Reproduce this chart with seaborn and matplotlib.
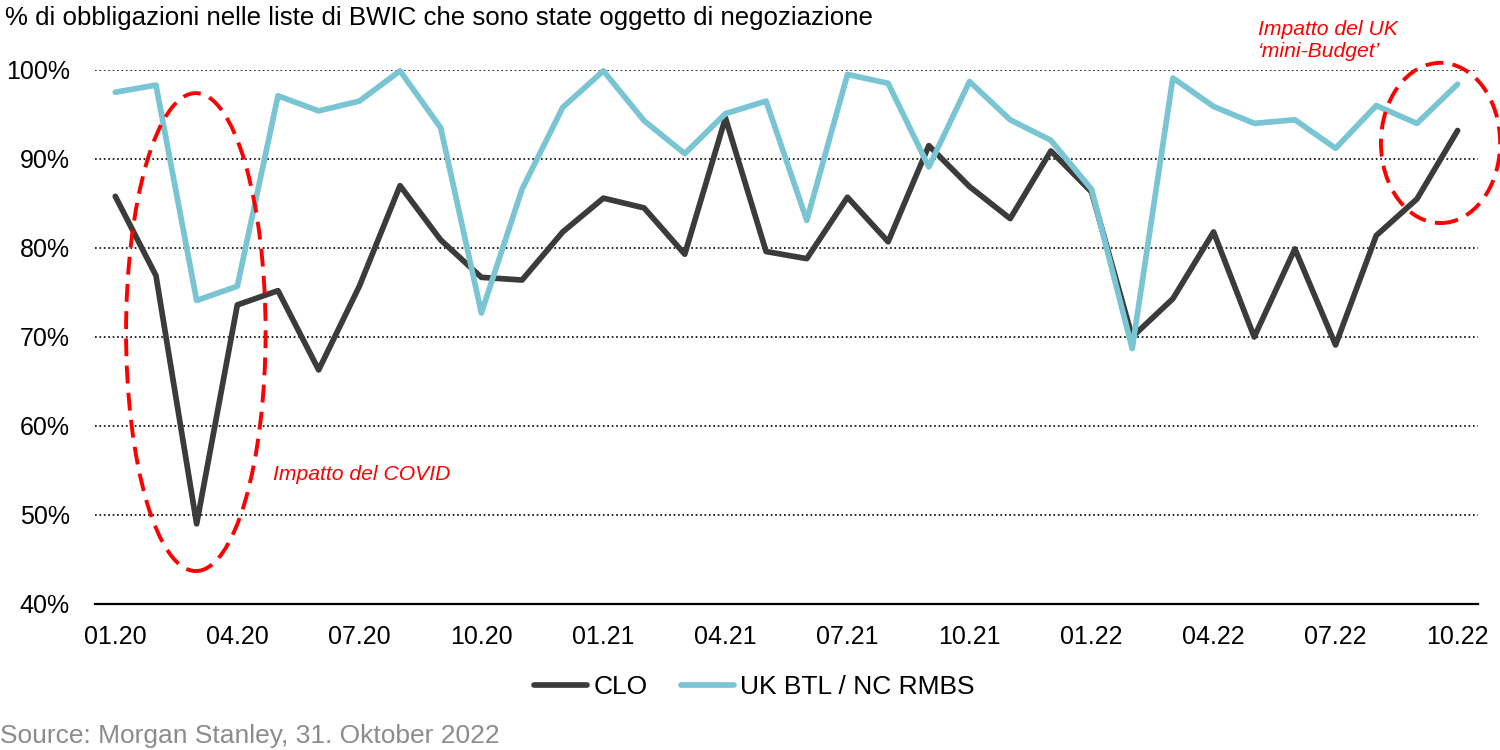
import pandas as pd
import matplotlib
matplotlib.use("Agg")
import matplotlib.pyplot as plt
import seaborn as sns
from matplotlib.patches import Ellipse
from matplotlib.lines import Line2D
from matplotlib.ticker import FuncFormatter

# dati (valori in %)
mesi = ["01.20", "02.20", "03.20", "04.20", "05.20", "06.20", "07.20", "08.20", "09.20",
        "10.20", "11.20", "12.20", "01.21", "02.21", "03.21", "04.21", "05.21", "06.21",
        "07.21", "08.21", "09.21", "10.21", "11.21", "12.21", "01.22", "02.22", "03.22",
        "04.22", "05.22", "06.22", "07.22", "08.22", "09.22", "10.22"]
clo = [85.8, 76.9, 49.0, 73.6, 75.2, 66.3, 75.7, 87.0, 80.9, 76.7, 76.4, 81.8,
       85.6, 84.5, 79.3, 94.6, 79.6, 78.8, 85.7, 80.7, 91.5, 86.9, 83.3, 90.9,
       86.3, 70.0, 74.3, 81.8, 70.0, 79.9, 69.1, 81.4, 85.5, 93.2]
btl = [97.5, 98.3, 74.1, 75.7, 97.1, 95.4, 96.5, 99.9, 93.5, 72.7, 86.6, 95.8,
       99.9, 94.3, 90.6, 95.1, 96.5, 83.1, 99.5, 98.5, 89.1, 98.7, 94.4, 92.1,
       86.6, 68.7, 99.1, 95.9, 94.0, 94.4, 91.2, 96.0, 94.0, 98.4]
serie = ["CLO", "UK BTL / NC RMBS"]
colori = ["#3B3B39", "#79C5D3"]
etichette_x = mesi[::3]

sns.set_theme(style="white")
plt.rcParams["font.family"] = ["Liberation Sans", "DejaVu Sans"]

df = pd.DataFrame({"pos": range(len(mesi)), "CLO": clo, "UK BTL / NC RMBS": btl})
df_long = df.melt(id_vars="pos", var_name="serie", value_name="valore")

fig = plt.figure(figsize=(15, 7.5), dpi=100)
ax = fig.add_axes([0.0633, 0.1947, 0.9220, 0.7120])

sns.lineplot(data=df_long, x="pos", y="valore", hue="serie", hue_order=serie,
             palette=colori, linewidth=4.1, ax=ax, legend=False)
for line in ax.lines:
    line.set_clip_on(False)

ax.set_xlim(-0.5, len(mesi) - 0.5)
ax.set_ylim(40, 100)
ax.set_xticks(range(0, len(mesi), 3))
ax.set_xticklabels(etichette_x)
ax.set_yticks(range(40, 101, 10))
ax.yaxis.set_major_formatter(FuncFormatter(lambda v, p: f"{v:.0f}%"))
ax.tick_params(axis="x", length=0, pad=15, labelsize=18, colors="black")
ax.tick_params(axis="y", length=0, pad=18, labelsize=18, colors="black")
ax.set_xlabel("")
ax.set_ylabel("")

ax.yaxis.grid(True, linestyle=":", color="black", linewidth=1.2)
ax.set_axisbelow(True)
for s in ["top", "right", "left"]:
    ax.spines[s].set_visible(False)
ax.spines["bottom"].set_color("black")
ax.spines["bottom"].set_linewidth(1.6)
ax.spines["bottom"].set_zorder(5)

# ellissi di evidenziazione
ax.add_patch(Ellipse((1.98, 70.55), 3.43, 53.7, fill=False, edgecolor="#FF0000",
                     linewidth=2.8, linestyle=(0, (4.6, 2.4)), clip_on=False, zorder=6))
ax.add_patch(Ellipse((32.58, 91.8), 2.93, 18.0, fill=False, edgecolor="#FF0000",
                     linewidth=2.8, linestyle=(0, (4.6, 2.4)), clip_on=False, zorder=6))
ax.text(3.88, 54.6, "Impatto del COVID", color="#FF0000", style="italic",
        fontsize=15.2, ha="left", va="center")
ax.text(28.1, 103.3, "Impatto del UK\n\u2018mini-Budget\u2019", color="#FF0000",
        style="italic", fontsize=15.2, ha="left", va="center", linespacing=1.2,
        clip_on=False)

handles = [Line2D([], [], color=c, linewidth=4.1, solid_capstyle="round") for c in colori]
fig.legend(handles, serie, loc="center", bbox_to_anchor=(0.503, 0.084), ncol=2,
           frameon=False, fontsize=19, handlelength=2.0, handletextpad=0.25,
           columnspacing=1.25, labelcolor="black")

fig.text(0.0033, 1 - 25 / 750, "% di obbligazioni nelle liste di BWIC che sono state oggetto di negoziazione",
         fontsize=18.6, ha="left", va="baseline", color="black")
fig.text(0.0, 1 - 743 / 750, "Source: Morgan Stanley, 31. Oktober 2022",
         fontsize=19, ha="left", va="baseline", color="#8C8C8C")

fig.savefig("out.png", dpi=100)
